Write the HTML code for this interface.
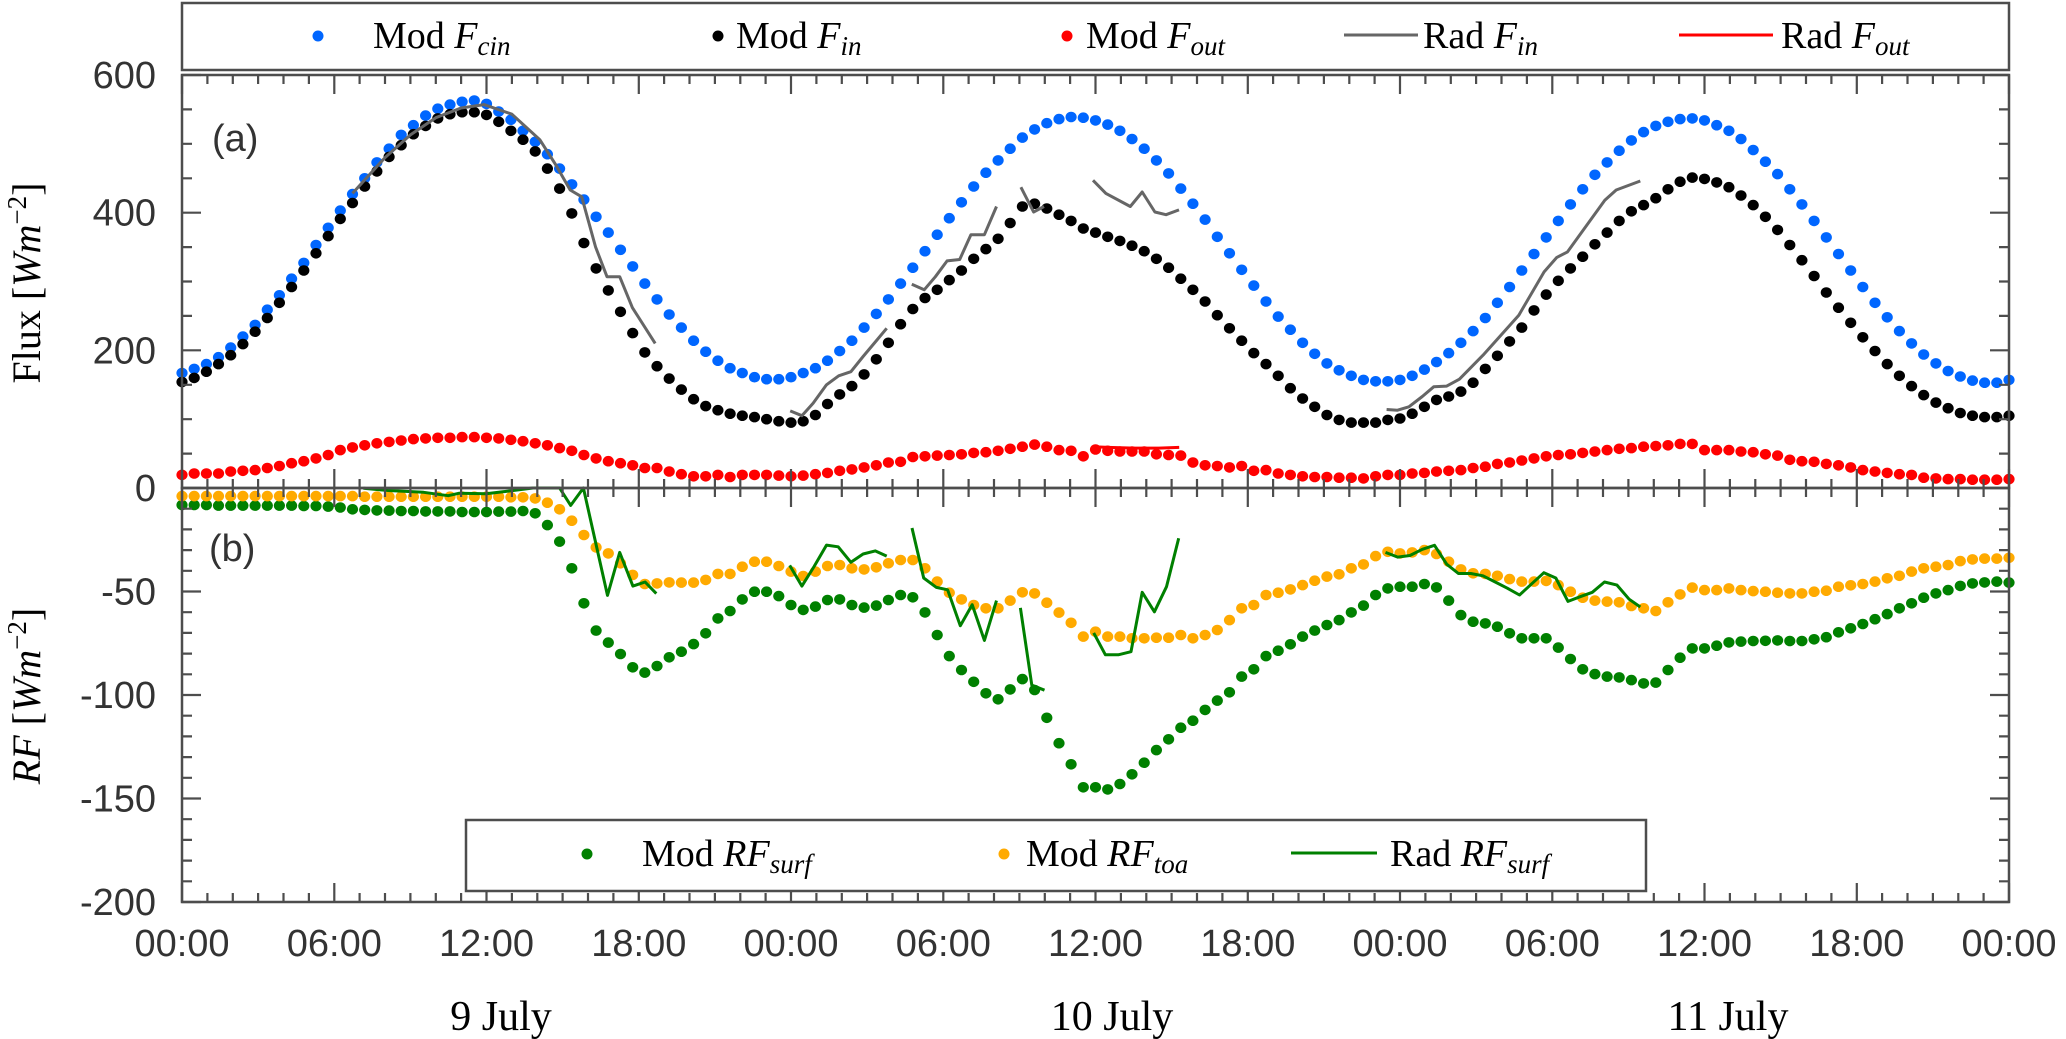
<!DOCTYPE html>
<html><head><meta charset="utf-8"><title>Flux and RF</title>
<style>
html,body{margin:0;padding:0;background:#fff;}
svg{display:block;}
.tk{font-family:"Liberation Sans",sans-serif;font-size:38px;fill:#333;}
.sf{font-family:"Liberation Serif",serif;fill:#000;}
</style></head>
<body>
<svg id="chart" width="2066" height="1039" viewBox="0 0 2066 1039" xmlns="http://www.w3.org/2000/svg">
  <rect x="0" y="0" width="2066" height="1039" fill="#fff"/>
  <g id="plots"></g>
  <g id="axes"></g>

  <g>
    <rect x="182" y="3" width="1827" height="67" fill="#fff" stroke="#4d4d4d" stroke-width="2.5"/>
    <circle cx="318" cy="36" r="5.5" fill="#0066ff"/>
    <text class="sf" x="373" y="48" font-size="38">Mod <tspan font-style="italic">F</tspan><tspan font-style="italic" font-size="27" dy="7">cin</tspan></text>
    <circle cx="718" cy="36" r="5.5" fill="#000"/>
    <text class="sf" x="736" y="48" font-size="38">Mod <tspan font-style="italic">F</tspan><tspan font-style="italic" font-size="27" dy="7">in</tspan></text>
    <circle cx="1067" cy="36" r="5.5" fill="#ff0000"/>
    <text class="sf" x="1086" y="48" font-size="38">Mod <tspan font-style="italic">F</tspan><tspan font-style="italic" font-size="27" dy="7">out</tspan></text>
    <line x1="1344" y1="35" x2="1418" y2="35" stroke="#666" stroke-width="3"/>
    <text class="sf" x="1423" y="48" font-size="38">Rad <tspan font-style="italic">F</tspan><tspan font-style="italic" font-size="27" dy="7">in</tspan></text>
    <line x1="1679" y1="35" x2="1773" y2="35" stroke="#ff0000" stroke-width="3"/>
    <text class="sf" x="1781" y="48" font-size="38">Rad <tspan font-style="italic">F</tspan><tspan font-style="italic" font-size="27" dy="7">out</tspan></text>
  </g>

  <g>
    <rect x="466" y="820" width="1180" height="71" fill="#fff" stroke="#4d4d4d" stroke-width="2.5"/>
    <circle cx="587" cy="854" r="5.5" fill="#008000"/>
    <text class="sf" x="642" y="866" font-size="38">Mod <tspan font-style="italic">RF</tspan><tspan font-style="italic" font-size="27" dy="7">surf</tspan></text>
    <circle cx="1004" cy="854" r="5.5" fill="#ffaa00"/>
    <text class="sf" x="1026" y="866" font-size="38">Mod <tspan font-style="italic">RF</tspan><tspan font-style="italic" font-size="27" dy="7">toa</tspan></text>
    <line x1="1291" y1="853" x2="1377" y2="853" stroke="#008000" stroke-width="3"/>
    <text class="sf" x="1390" y="866" font-size="38">Rad <tspan font-style="italic">RF</tspan><tspan font-style="italic" font-size="27" dy="7">surf</tspan></text>
  </g>

  <text class="tk" x="212" y="151" font-size="36">(a)</text>
  <text class="tk" x="209" y="561" font-size="36">(b)</text>

  <text class="sf" font-size="40" transform="translate(40,283) rotate(-90)" text-anchor="middle">Flux [<tspan font-style="italic">Wm</tspan><tspan font-size="27" dy="-14">−2</tspan><tspan dy="14">]</tspan></text>
  <text class="sf" font-size="40" transform="translate(40,696) rotate(-90)" text-anchor="middle"><tspan font-style="italic">RF</tspan> [<tspan font-style="italic">Wm</tspan><tspan font-size="27" dy="-14">−2</tspan><tspan dy="14">]</tspan></text>

  <text class="sf" x="501" y="1030" font-size="42" text-anchor="middle">9 July</text>
  <text class="sf" x="1112" y="1030" font-size="42" text-anchor="middle">10 July</text>
  <text class="sf" x="1728" y="1030" font-size="42" text-anchor="middle">11 July</text>
</svg>
<script>
// ---- data ----
const modStepHours = 0.48;
const modFcin = [167,173,180,190,204,220,237,259,280,304,327,353,378,403,427,450,473,493,513,527,541,551,557,561,563,558,547,535,519,503,485,464,441,419,394,371,346,322,297,
274,252,233,214,198,185,174,167,161,158,158,161,167,174,185,199,214,233,253,274,297,320,344,368,392,415,438,458,476,493,509,521,530,536,539,538,534,528,519,507,493,476,457,435,413,390,365,341,317,294,271,249,230,211,195,181,171,163,157,155,155,
157,163,172,183,196,211,228,247,269,292,316,340,364,388,412,434,455,473,490,505,517,526,532,536,537,534,527,519,507,491,474,456,434,412,388,364,340,316,292,269,248,228,210,194,181,170,162,156,153,153,157];
const modFin = [154,160,169,180,193,209,227,247,269,292,316,341,366,391,414,438,460,481,498,514,526,537,543,546,546,542,532,519,506,489,464,435,399,356,319,287,256,225,197,
177,159,143,129,119,113,108,105,103,100,97,95,97,106,122,136,148,165,187,211,238,260,276,288,302,316,333,347,362,385,409,413,406,397,388,377,371,365,359,352,344,333,320,304,288,271,251,232,214,196,180,163,145,130,118,106,99,95,95,95,99,
101,108,118,128,133,140,153,173,192,213,233,258,281,301,319,336,354,371,388,402,411,421,434,445,451,449,444,437,425,411,394,375,353,331,308,284,262,240,219,199,180,163,148,135,124,116,109,105,103,103,105];
const modFout = [19,21,21,21,24,25,26,29,32,36,39,43,48,55,59,62,65,67,69,71,72,73,73,74,74,73,72,70,68,65,62,58,54,48,43,39,36,33,29,
29,24,20,17,17,19,16,19,19,19,18,17,18,20,22,25,27,30,33,37,38,45,46,47,48,49,51,52,54,57,60,63,60,55,54,46,56,54,53,53,53,49,48,47,37,33,32,30,32,25,26,21,19,17,16,16,15,15,14,17,19,
19,21,22,24,25,26,29,31,35,37,40,43,46,48,49,51,53,55,57,58,60,61,62,64,64,55,55,55,53,52,49,47,41,39,38,35,33,30,26,24,22,20,19,15,14,13,13,12,12,12,13];
const modRFtoa = [-3.9,-3.9,-3.9,-3.9,-3.9,-3.9,-3.9,-3.9,-3.9,-3.9,-3.9,-3.9,-3.9,-3.9,-3.9,-4.2,-4.2,-4.2,-4.2,-4.2,-4.2,-4.2,-4.2,-4.2,-4.2,-4.2,
-4.2,-4.5,-4.5,-5.0,-7.1,-10.3,-15.8,-22.7,-28.7,-31.6,-36.4,-42.0,-46.4,-46.1,-45.6,-45.7,-45.7,-44.4,-41.5,-41.5,-38.0,-35.6,-35.6,-37.7,-40.4,-42.5,-40.4,-37.7,-37.2,-38.8,-39.3,-38.3,-36.4,-34.8,-34.8,-38.8,-45.2,-50.6,-53.8,-56.5,-58.1,-58.1,-54.4,-50.4,-50.9,-55.4,-60.2,-65.1,-71.8,-69.4,-71.8,-71.8,-72.6,-72.6,-72.3,-72.3,-71.0,-72.6,-71.0,-68.6,-63.8,-58.1,
-56.5,-51.7,-50.6,-49.0,-46.9,-44.8,-42.8,-41.7,-38.8,-36.9,-32.9,-30.8,-31.6,-31.1,-30.0,-31.9,-35.6,-39.3,-41.2,-41.5,-42.4,-44.0,-45.2,-45.2,-44.9,-46.9,-50.1,-53.0,-54.4,-54.9,-55.2,-57.0,-58.1,-59.4,-55.2,-51.4,-48.1,-49.3,-49.3,-48.5,-49.3,-49.8,-50.1,-50.6,-50.9,-50.9,-50.1,-49.6,-47.7,-47.0,-46.4,-45.2,-43.6,-42.4,-40.4,-38.8,-38.0,-37.2,-35.3,-34.5,-34.1,-34.1,-33.7];
const modRFsurf = [-8.2,-8.2,-8.2,-8.5,-8.5,-8.5,-8.5,-8.5,-8.5,-8.5,-8.7,-8.7,-9.0,-9.4,-10.3,-10.6,-10.8,-10.9,-11.1,-11.1,-11.3,-11.3,-11.3,-11.6,-11.6,-11.6,
-11.4,-11.4,-11.1,-12.2,-17.9,-25.9,-38.8,-55.7,-68.9,-74.7,-80.2,-86.6,-89.2,-86.0,-81.8,-79.1,-75.4,-70.2,-63.0,-59.4,-53.8,-50.1,-50.1,-52.2,-56.5,-58.9,-57.3,-54.1,-53.8,-56.5,-57.8,-56.8,-54.1,-51.7,-52.8,-60.1,-71.0,-81.2,-87.9,-93.6,-99.2,-102.1,-97.3,-92.3,-97.6,-111.0,-123.3,-133.5,-144.6,-144.6,-145.6,-143.0,-138.3,-132.7,-126.6,-121.4,-115.8,-112.4,-107.2,-102.7,-98.7,-91.1,
-87.6,-81.2,-78.6,-75.5,-71.8,-68.9,-66.2,-63.8,-60.1,-56.8,-51.7,-48.5,-47.7,-47.7,-46.4,-48.0,-54.4,-61.4,-64.6,-65.4,-67.0,-70.2,-72.6,-72.6,-72.6,-77.1,-82.6,-87.6,-89.9,-91.1,-91.5,-92.8,-94.4,-94.0,-87.9,-82.0,-77.5,-77.5,-76.2,-74.6,-74.2,-73.9,-73.8,-73.6,-73.9,-73.9,-73.1,-72.1,-69.7,-67.8,-65.7,-63.4,-60.9,-58.1,-55.7,-53.0,-50.9,-49.3,-47.3,-46.1,-45.6,-45.2,-45.7];

// radiometer segments: hours + values
const radFinTimes = [
 [6.72,8,9,10,11,11.9,13,14.1,14.74,15.3,15.75,16.3,16.75,17.25,17.75,18.65],
 [23.97,24.43,24.87,25.4,25.88,26.36,26.84,27.34,27.77],
 [28.76,29.25,29.69,30.15,30.65,31.09,31.62,32.1],
 [33.06,33.56,33.97],
 [35.9,36.41,37.37,37.84,38.34,38.78,39.29],
 [47.47,47.9,48.35,48.88,49.33,49.84,50.34,51.27,52.68,53.68,54.18,54.6,56.07,56.52,57.47]];
const radFinValues = [
 [428,480,513,538,552,557,543,506,469,433,423,350,307,307,262,210],
 [112,105,123,150,163,169,191,213,232],
 [296,288,307,330,332,368,368,409],
 [437,401,409],
 [447,428,409,430,401,397,404],
 [114,113,118,133,147,148,158,193,251,314,335,343,418,433,446]];
const radFoutTimes = [[35.9,36.5,37.5,38.5,39.3]];
const radFoutValues = [[60,59,58,58,59]];
const radRFTimes = [
 [7.15,8.12,9.52,10.49,10.93,11.98,12.86,13.83,14.1,14.88,15.32,15.82,16.77,17.25,17.77,18.25,18.69],
 [23.95,24.43,24.91,25.4,25.86,26.36,26.84,27.32,27.77],
 [28.77,29.23,29.73,30.17,30.67,31.14,31.62,32.1],
 [33.04,33.49,33.99],
 [35.93,36.39,36.9,37.4,37.84,38.32,38.8,39.28],
 [47.43,47.91,48.39,48.88,49.36,49.84,50.3,50.79,51.27,51.75,52.23,52.71,53.67,54.14,54.62,55.1,55.58,56.06,56.55,57.03,57.47]];
const radRFValues = [
 [-0.1,-1.2,-2.1,-3.7,-2.5,-2.8,-1.5,0,0,0,-8.4,0,-51.9,-31.1,-47.4,-45.4,-51.0],
 [-37.4,-47.4,-37.9,-27.6,-28.4,-35.9,-31.9,-30.4,-32.9],
 [-19.3,-43.5,-48.0,-49.2,-66.5,-56.4,-73.6,-54.4],
 [-57.9,-95.2,-97.7],
 [-70.0,-80.6,-80.6,-79.1,-50.4,-59.8,-47.7,-24.3],
 [-31.1,-33.4,-32.6,-29.6,-27.7,-36.8,-41.3,-41.3,-42.4,-45.4,-48.4,-51.7,-40.9,-43.5,-54.8,-52.5,-50.4,-45.4,-46.9,-53.7,-57.5]];

const xTickLabels = ["00:00","06:00","12:00","18:00","00:00","06:00","12:00","18:00","00:00","06:00","12:00","18:00","00:00"];
const upperTickLabels = [0,200,400,600];
const lowerTickLabels = [-50,-100,-150,-200];

// ---- geometry ----
const X0 = 182, X1 = 2009, YT = 75, YM = 488, YB = 902;
function xs(h){ return X0 + h*(X1-X0)/72; }
function yu(v){ return YM - v*(YM-YT)/600; }
function yl(v){ return YM - v*(YB-YM)/200; }
const NS = "http://www.w3.org/2000/svg";
const plots = document.getElementById('plots');
const axes = document.getElementById('axes');
function mk(tag, attrs, parent){
  const e = document.createElementNS(NS, tag);
  for (const k in attrs) e.setAttribute(k, attrs[k]);
  parent.appendChild(e);
  return e;
}

function dots(arr, yfn, color, name){
  const g = mk('g', {}, plots);
  
  
  arr.forEach((v,i)=>{
    const c = mk('ellipse', {cx: xs(i*modStepHours).toFixed(1), cy: yfn(v).toFixed(1), rx: 5.6, ry: 5.3, fill: color}, g);
    
    
  });
}
function lines(tArr, vArr, yfn, color, name){
  const g = mk('g', {}, plots);
  
  
  tArr.forEach((ts,k)=>{
    const pts = ts.map((t,j)=> xs(t).toFixed(1)+','+yfn(vArr[k][j]).toFixed(1)).join(' ');
    const p = mk('polyline', {points: pts, fill: 'none', stroke: color, 'stroke-width': 3, 'stroke-linejoin': 'round'}, g);
    
    
  });
}

dots(modFcin, yu, '#0066ff', 'mod-fcin');
dots(modFin, yu, '#000000', 'mod-fin');
dots(modFout, yu, '#ff0000', 'mod-fout');
lines(radFinTimes, radFinValues, yu, '#666666', 'rad-fin');
lines(radFoutTimes, radFoutValues, yu, '#ff0000', 'rad-fout');
dots(modRFsurf, yl, '#008000', 'mod-rfsurf');
dots(modRFtoa, yl, '#ffaa00', 'mod-rftoa');
lines(radRFTimes, radRFValues, yl, '#008000', 'rad-rfsurf');

// ---- axes ----
const AX = '#4d4d4d';
const fr1 = mk('rect', {x:X0, y:YT, width:X1-X0, height:YM-YT, fill:'none', stroke:AX, 'stroke-width':2.5}, axes);


const fr2 = mk('rect', {x:X0, y:YM, width:X1-X0, height:YB-YM, fill:'none', stroke:AX, 'stroke-width':2.5}, axes);



let d = '';
for (let h=0; h<=72; h++){
  const x = xs(h).toFixed(1);
  const L = (h%6===0) ? 19 : 9;
  d += `M${x},${YT}v${L}M${x},${YM}v${-L}M${x},${YM}v${L}M${x},${YB}v${-L}`;
}
for (let v=0; v<=600; v+=50){
  const y = yu(v).toFixed(1);
  const L = (v%200===0) ? 19 : 10;
  d += `M${X0},${y}h${L}M${X1},${y}h${-L}`;
}
for (let v=0; v>=-200; v-=10){
  const y = yl(v).toFixed(1);
  const L = (v%50===0) ? 19 : 10;
  d += `M${X0},${y}h${L}M${X1},${y}h${-L}`;
}
const tk = mk('path', {d:d, stroke:AX, 'stroke-width':2.2, fill:'none'}, axes);



xTickLabels.forEach((lab,i)=>{
  const t = mk('text', {x: xs(i*6).toFixed(1), y: 956, 'text-anchor':'middle', class:'tk'}, axes);
  t.textContent = lab;
  
  
});
upperTickLabels.forEach(v=>{
  const t = mk('text', {x: 156, y: (yu(v)+13).toFixed(1), 'text-anchor':'end', class:'tk'}, axes);
  t.textContent = String(v);
  
  
});
lowerTickLabels.forEach(v=>{
  const t = mk('text', {x: 156, y: (yl(v)+13).toFixed(1), 'text-anchor':'end', class:'tk'}, axes);
  t.textContent = String(v);
  
  
});
</script>
</body></html>
